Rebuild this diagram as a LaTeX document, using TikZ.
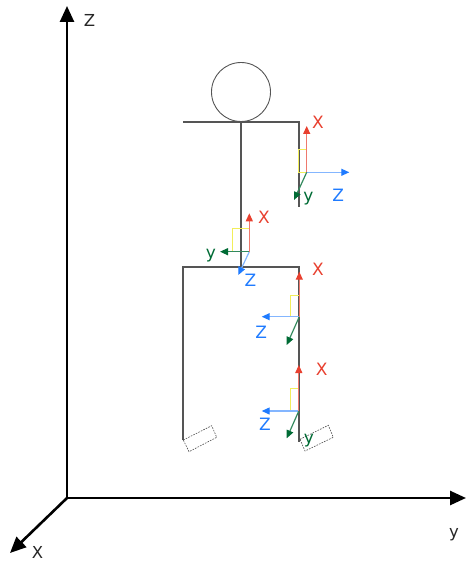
\documentclass[tikz,border=0pt]{standalone}
\usepackage{fontspec}
\setmainfont{DejaVu Sans}
\usetikzlibrary{arrows.meta}

\definecolor{ared}{HTML}{E8402F}
\definecolor{ablue}{HTML}{1F7BFF}
\definecolor{agreen}{HTML}{006B35}
\definecolor{ayellow}{HTML}{F2EE5A}
\definecolor{body}{HTML}{555555}

\tikzset{
  worldaxis/.style={line width=2.6pt, black, -{Triangle[length=16pt,width=14pt]}},
  worldlbl/.style={font=\fontsize{16.5}{16.5}\selectfont, text=black!85, inner sep=0pt, anchor=base},
  limb/.style={line width=1.2pt, draw=body},
  foot/.style={line width=0.6pt, draw=black!70, dashed, dash pattern=on 1.6pt off 1.2pt},
  xax/.style={line width=1.2pt, draw=ared!70!white, -{Triangle[length=8pt,width=7pt,color=ared]}},
  yax/.style={line width=1.2pt, draw=agreen!80!white, -{Triangle[length=8pt,width=7pt,color=agreen]}},
  zax/.style={line width=1.2pt, draw=ablue!55!white, -{Triangle[length=8pt,width=7pt,color=ablue]}},
  marker/.style={line width=1pt, draw=ayellow},
  lbl/.style={font=\fontsize{17}{17}\selectfont, inner sep=0pt, anchor=base},
}

\begin{document}
\begin{tikzpicture}[x=1pt,y=-1pt]
\useasboundingbox (0,0) rectangle (466,561);

% world axes
\coordinate (O)  at (67,498);
\coordinate (WZ) at (67,6);
\coordinate (WY) at (466,498);
\coordinate (WX) at (10,553);
\draw[worldaxis] (O) -- (WZ);
\draw[worldaxis] (O) -- (WY);
\draw[worldaxis] (O) -- (WX);
\node[worldlbl] (lWZ) at (89.5,26.5) {Z};
\node[worldlbl] (lWY) at (454,537) {y};
\node[worldlbl] (lWX) at (37.5,558) {X};

% skeleton
\node[circle, draw=body, line width=0.9pt, minimum size=59pt, inner sep=0pt] (head) at (241,92) {};
\coordinate (shL) at (183,122);
\coordinate (shR) at (299,122);
\coordinate (neck) at (241,122);
\coordinate (hand) at (299,207);
\coordinate (pelvis) at (241,267);
\coordinate (hipL) at (183,267);
\coordinate (hipR) at (299,267);
\coordinate (ankL) at (183,440);
\coordinate (ankR) at (299,442);
\draw[limb] (shL) -- (shR) -- (hand);
\draw[limb] (neck) -- (pelvis);
\draw[limb] (ankL) -- (hipL) -- (hipR) -- (ankR);

% feet
\draw[foot] (183.3,440) -- (211.7,425.7) -- (216.7,437.3) -- (189,451.7) -- cycle;
\draw[foot] (300,439.3) -- (328.3,425.3) -- (333.3,437.3) -- (305,451) -- cycle;

% frame at the arm
\coordinate (f1) at (306.7,172.3);
\draw[marker] (298.3,150) rectangle (f1);
\coordinate (f1x) at (306.7,126);
\coordinate (f1y) at (294,200);
\coordinate (f1z) at (349.3,172.3);
\draw[zax] (f1) -- (f1z);
\draw[yax] (f1) -- (f1y);
\draw[xax] (f1) -- (f1x);
\node[lbl, text=ared]   (l1x) at (318,129) {X};
\node[lbl, text=agreen] (l1y) at (308.3,201.5) {y};
\node[lbl, text=ablue]  (l1z) at (338.3,201) {Z};

% frame at the torso
\coordinate (f2) at (249.3,251.7);
\draw[marker] (232.3,228.3) rectangle (f2);
\coordinate (f2x) at (249.3,213.3);
\coordinate (f2y) at (220,251.7);
\coordinate (f2z) at (238.3,275);
\draw[zax] (f2) -- (f2z);
\draw[yax] (f2) -- (f2y);
\draw[xax] (f2) -- (f2x);
\node[lbl, text=ared]   (l2x) at (264,223.3) {X};
\node[lbl, text=agreen] (l2y) at (211,258.5) {y};
\node[lbl, text=ablue]  (l2z) at (250.5,286.7) {Z};

% frame at the hip
\coordinate (f3) at (299.3,316.7);
\draw[marker] (290.7,295) rectangle (f3);
\coordinate (f3x) at (299.3,271.7);
\coordinate (f3y) at (286.7,345);
\coordinate (f3z) at (261.7,316.7);
\draw[zax] (f3) -- (f3z);
\draw[yax] (f3) -- (f3y);
\draw[xax] (f3) -- (f3x);
\node[lbl, text=ared]   (l3x) at (318,275) {X};
\node[lbl, text=ablue]  (l3z) at (261.3,338.3) {Z};

% frame at the knee
\coordinate (f4) at (298.8,411);
\draw[marker] (290,388.3) rectangle (f4);
\coordinate (f4x) at (298.8,365);
\coordinate (f4y) at (286.7,438.3);
\coordinate (f4z) at (261.7,411);
\draw[zax] (f4) -- (f4z);
\draw[yax] (f4) -- (f4y);
\draw[xax] (f4) -- (f4x);
\node[lbl, text=ared]   (l4x) at (321.7,375.7) {X};
\node[lbl, text=agreen] (l4y) at (309,443.3) {y};
\node[lbl, text=ablue]  (l4z) at (265,430) {Z};

\end{tikzpicture}
\end{document}
